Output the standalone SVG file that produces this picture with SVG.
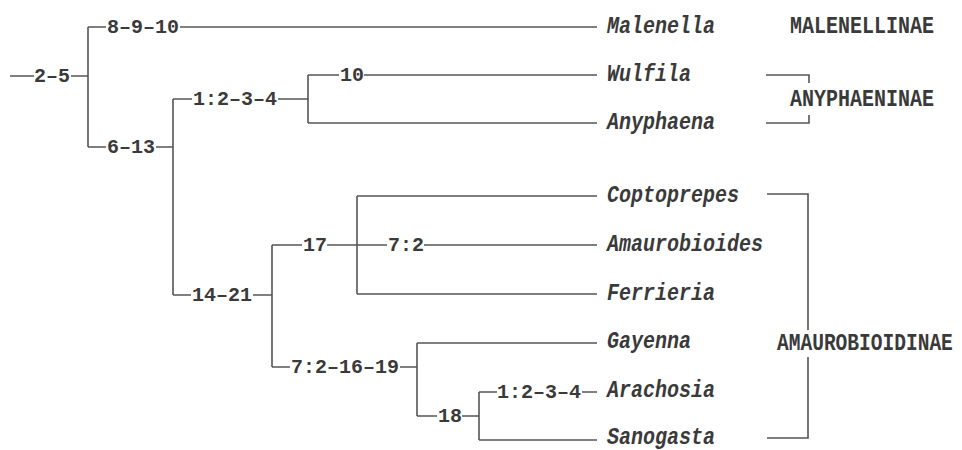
<svg xmlns="http://www.w3.org/2000/svg" width="962" height="450" viewBox="0 0 962 450">
<style>
.bg{fill:#ffffff}
.ln{fill:none;stroke:#555555;stroke-width:1.6}
.ch{font-family:"Liberation Mono","DejaVu Sans Mono",monospace;font-size:20px;font-weight:bold;fill:#3a3a3a}
.tx{font-family:"Liberation Mono","DejaVu Sans Mono",monospace;font-size:23px;font-weight:bold;font-style:italic;fill:#3a3a3a}
.sf{font-family:"Liberation Mono","DejaVu Sans Mono",monospace;font-size:23px;font-weight:bold;fill:#3a3a3a}
</style>
<rect class="bg" x="0" y="0" width="962" height="450"/>
<g id="connectors" class="ln">
<path d="M10 76H34M71 76H88M88 27V147"/>
<path d="M88 27H106M180 27H597"/>
<path d="M88 147H106M156 147H173M173 99V295"/>
<path d="M173 99H192M278 99H308M308 75V123"/>
<path d="M308 75H339M364 75H597"/>
<path d="M308 123H597"/>
<path d="M173 295H191M253 295H272M272 245V367"/>
<path d="M272 245H302M327 245H387M424 245H597"/>
<path d="M357 196V294M357 196H597M357 294H597"/>
<path d="M272 367H290M400 367H417M417 343V416"/>
<path d="M417 343H597"/>
<path d="M417 416H437M462 416H479M479 392V440"/>
<path d="M479 392H497M582 392H597"/>
<path d="M479 440H597"/>
<path d="M766 75H809V83M766 123H809V115"/>
<path d="M767 194H808V330M808 357V438H767"/>
</g>
<g id="characters" class="ch">
<text x="34" y="82">2–5</text>
<text x="107" y="33">8–9–10</text>
<text x="107" y="153">6–13</text>
<text x="193" y="105">1:2–3–4</text>
<text x="340" y="81">10</text>
<text x="192" y="301">14–21</text>
<text x="303" y="251">17</text>
<text x="388" y="251">7:2</text>
<text x="291" y="373">7:2–16–19</text>
<text x="438" y="422">18</text>
<text x="497" y="398">1:2–3–4</text>
</g>
<g id="taxon-malenella" class="tx"><text x="607" y="33" textLength="108" lengthAdjust="spacingAndGlyphs">Malenella</text></g>
<g id="taxon-wulfila" class="tx"><text x="607" y="81" textLength="84" lengthAdjust="spacingAndGlyphs">Wulfila</text></g>
<g id="taxon-anyphaena" class="tx"><text x="607" y="129" textLength="108" lengthAdjust="spacingAndGlyphs">Anyphaena</text></g>
<g id="taxon-coptoprepes" class="tx"><text x="607" y="202" textLength="132" lengthAdjust="spacingAndGlyphs">Coptoprepes</text></g>
<g id="taxon-amaurobioides" class="tx"><text x="607" y="251" textLength="156" lengthAdjust="spacingAndGlyphs">Amaurobioides</text></g>
<g id="taxon-ferrieria" class="tx"><text x="607" y="300" textLength="108" lengthAdjust="spacingAndGlyphs">Ferrieria</text></g>
<g id="taxon-gayenna" class="tx"><text x="607" y="348" textLength="84" lengthAdjust="spacingAndGlyphs">Gayenna</text></g>
<g id="taxon-arachosia" class="tx"><text x="607" y="397" textLength="108" lengthAdjust="spacingAndGlyphs">Arachosia</text></g>
<g id="taxon-sanogasta" class="tx"><text x="607" y="444" textLength="108" lengthAdjust="spacingAndGlyphs">Sanogasta</text></g>
<g id="subfamily-malenellinae" class="sf"><text x="790" y="33" textLength="144" lengthAdjust="spacingAndGlyphs">MALENELLINAE</text></g>
<g id="subfamily-anyphaeninae" class="sf"><text x="790" y="106" textLength="144" lengthAdjust="spacingAndGlyphs">ANYPHAENINAE</text></g>
<g id="subfamily-amaurobioidinae" class="sf"><text transform="translate(777 350) scale(0.85 1)" x="0" y="0">AMAUROBIOIDINAE</text></g>
</svg>
